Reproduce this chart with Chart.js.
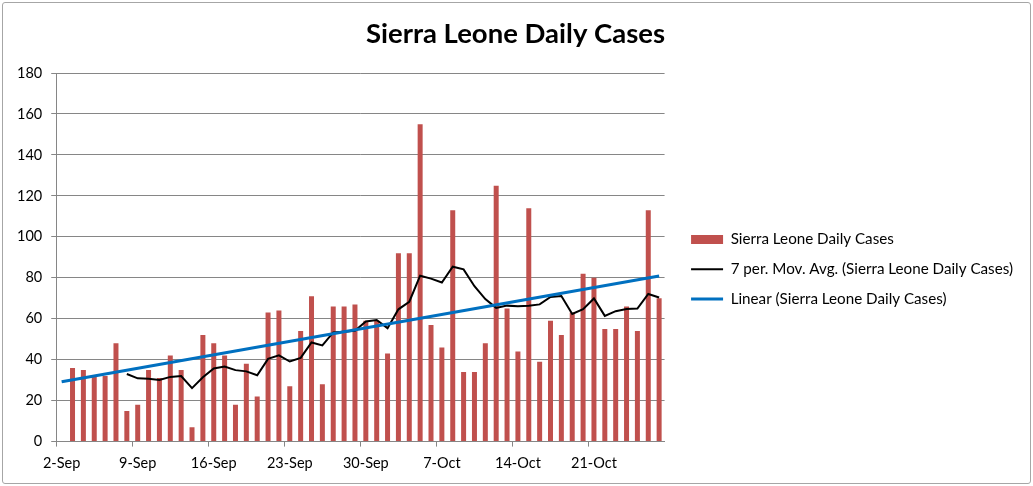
<!DOCTYPE html>
<html>
<head>
<meta charset="utf-8">
<script src="https://cdn.jsdelivr.net/npm/chart.js@4.4.0/dist/chart.umd.min.js"></script>
<style>
  html, body { margin: 0; padding: 0; background: #fff; }
  #wrap { position: relative; width: 1033px; height: 486px; }
  #frame {
    position: absolute; left: 2px; top: 2px; width: 1027px; height: 480px;
    border: 1px solid #a6a6a6; border-radius: 3px; pointer-events: none;
  }
</style>
</head>
<body>
<div id="wrap">
  <canvas id="chart" width="1033" height="486"></canvas>
  <div id="frame"></div>
</div>
<script>
// dates on the x axis (one category per day)
const dates = [
  '2-Sep', '3-Sep', '4-Sep', '5-Sep', '6-Sep', '7-Sep', '8-Sep', '9-Sep', '10-Sep',
  '11-Sep', '12-Sep', '13-Sep', '14-Sep', '15-Sep', '16-Sep', '17-Sep', '18-Sep',
  '19-Sep', '20-Sep', '21-Sep', '22-Sep', '23-Sep', '24-Sep', '25-Sep', '26-Sep',
  '27-Sep', '28-Sep', '29-Sep', '30-Sep',
  '1-Oct', '2-Oct', '3-Oct', '4-Oct', '5-Oct', '6-Oct', '7-Oct', '8-Oct', '9-Oct',
  '10-Oct', '11-Oct', '12-Oct', '13-Oct', '14-Oct', '15-Oct', '16-Oct', '17-Oct',
  '18-Oct', '19-Oct', '20-Oct', '21-Oct', '22-Oct', '23-Oct', '24-Oct', '25-Oct',
  '26-Oct', '27-Oct'
];

// daily cases (2-Sep has no bar)
const dailyCases = [
  null, 36, 35, 32, 32, 48, 15, 18, 35,
  31, 42, 35, 7, 52, 48, 42, 18,
  38, 22, 63, 64, 27, 54, 71, 28,
  66, 66, 67, 59,
  59, 43, 92, 92, 155, 57, 46, 113, 34,
  34, 48, 125, 65, 44, 114, 39, 59,
  52, 63, 82, 80, 55, 55, 66, 54,
  113, 70
];

// 7 per. moving average
const movingAvg = [
  null, null, null, null, null, null, 33.0, 30.9, 30.7,
  30.1, 31.6, 32.0, 26.1, 31.4, 35.7, 36.7, 34.9,
  34.3, 32.4, 40.4, 42.1, 39.1, 40.9, 48.4, 47.0,
  53.3, 53.7, 54.1, 58.7,
  59.4, 55.4, 64.6, 68.3, 81.0, 79.6, 77.7, 85.4, 84.1,
  75.9, 69.6, 65.3, 66.4, 66.1, 66.3, 67.0, 70.6,
  71.1, 62.3, 64.7, 69.9, 61.4, 63.7, 64.7, 65.0,
  72.1, 70.4
];

// linear trend end points
const trendStart = 29.2;
const trendEnd = 80.9;

// labelled x ticks and y ticks
const xTickLabels = ['2-Sep', '9-Sep', '16-Sep', '23-Sep', '30-Sep', '7-Oct', '14-Oct', '21-Oct'];
const yMax = 180;
const yStep = 20;

const axisGrey = '#868686';
const tickFont = { family: 'Lato', size: 14.5 };

const ctx = document.getElementById('chart').getContext('2d');

new Chart(ctx, {
  type: 'bar',
  data: {
    labels: dates,
    datasets: [
      {
        type: 'bar',
        label: 'Sierra Leone Daily Cases',
        data: dailyCases,
        backgroundColor: '#C0504D',
        borderWidth: 0,
        categoryPercentage: 1.0,
        barPercentage: 0.46,
        pointStyle: 'rect',
        order: 3,
      },
      {
        type: 'line',
        label: '7 per. Mov. Avg. (Sierra Leone Daily Cases)',
        data: movingAvg,
        borderColor: '#000000',
        backgroundColor: '#000000',
        borderWidth: 2,
        pointRadius: 0,
        pointStyle: 'line',
        tension: 0,
        order: 2,
      },
      {
        type: 'line',
        label: 'Linear (Sierra Leone Daily Cases)',
        data: [
          { x: dates[0], y: trendStart },
          { x: dates[dates.length - 1], y: trendEnd },
        ],
        borderColor: '#0070C0',
        backgroundColor: '#0070C0',
        borderWidth: 3,
        pointRadius: 0,
        pointStyle: 'line',
        order: 1,
      },
    ],
  },
  options: {
    responsive: false,
    animation: false,
    layout: {
      padding: { left: 8, right: 10, top: 8, bottom: 6 },
    },
    plugins: {
      title: {
        display: true,
        text: 'Sierra Leone Daily Cases',
        color: '#000',
        font: { family: 'Lato', size: 27.5, weight: 'bold' },
        padding: { top: 10, bottom: 22 },
      },
      legend: {
        position: 'right',
        maxWidth: 420,
        title: {
          // empty title only pushes the entries down
          display: true,
          text: ' ',
          padding: 0,
          font: { family: 'Lato', size: 42 },
        },
        labels: {
          usePointStyle: true,
          pointStyleWidth: 32,
          boxWidth: 32,
          boxHeight: 9,
          padding: 14.5,
          color: '#000',
          font: { family: 'Lato', size: 15.2 },
          sort: (a, b) => a.datasetIndex - b.datasetIndex,
        },
      },
      tooltip: { enabled: false },
    },
    scales: {
      x: {
        offset: true,
        grid: {
          offset: true,
          drawOnChartArea: false,
          drawTicks: true,
          tickLength: 5,
          color: (c) => (c.index % 7 === 0 ? axisGrey : 'rgba(0,0,0,0)'),
        },
        border: { display: true, color: axisGrey },
        ticks: {
          autoSkip: false,
          maxRotation: 0,
          minRotation: 0,
          padding: 8,
          color: '#000',
          font: tickFont,
          callback: function (value) {
            const lbl = this.getLabelForValue(value);
            return xTickLabels.includes(lbl) ? lbl : '';
          },
        },
      },
      y: {
        min: 0,
        max: yMax,
        grid: {
          color: axisGrey,
          tickLength: 5,
        },
        border: { display: true, color: axisGrey },
        ticks: {
          stepSize: yStep,
          padding: 9,
          color: '#000',
          font: tickFont,
        },
      },
      // blank spacer between the plot and the legend
      gap: {
        type: 'linear',
        position: 'right',
        display: true,
        grid: { display: false },
        border: { display: false },
        ticks: { display: false },
        afterFit: (scale) => { scale.width = 12; },
      },
    },
  },
});
</script>
</body>
</html>
